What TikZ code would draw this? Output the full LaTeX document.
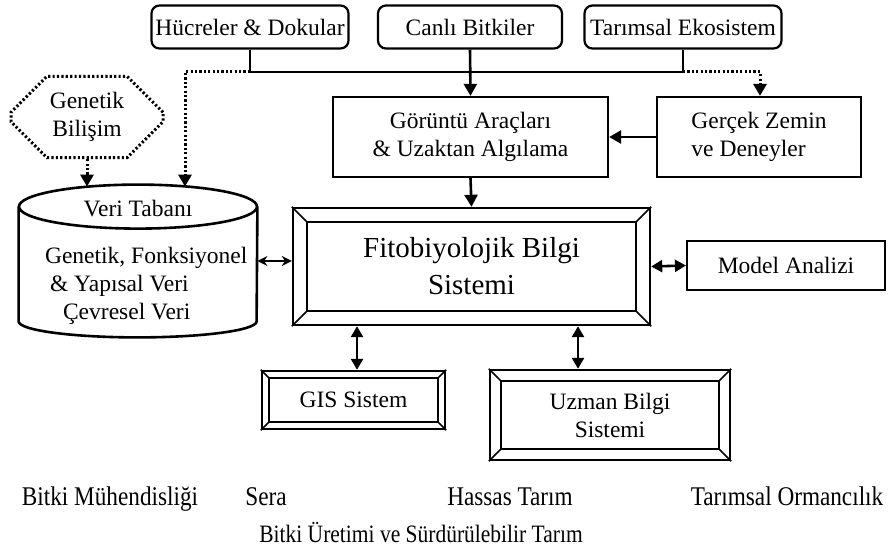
\documentclass[tikz,border=0pt]{standalone}
\usepackage{fontspec}
\setmainfont{Liberation Serif}
\newfontfamily\narrowserif[FakeStretch=0.86]{Liberation Serif}
\usetikzlibrary{shapes,arrows.meta,positioning}

% inner frame and corner bevels of a framed node (name, inset)
\newcommand{\bevelframe}[2]{%
  \draw[line width=1.2pt] ([shift={(#2,-#2)}]#1.north west) rectangle ([shift={(-#2,#2)}]#1.south east);
  \draw[line width=0.8pt] (#1.north west) -- ++(#2,-#2);
  \draw[line width=0.8pt] (#1.north east) -- ++(-#2,-#2);
  \draw[line width=0.8pt] (#1.south west) -- ++(#2,#2);
  \draw[line width=0.8pt] (#1.south east) -- ++(-#2,#2);
}

\begin{document}
\begin{tikzpicture}[
    x=0.5pt, y=-0.5pt,
    font=\fontsize{11.75}{14}\selectfont,
    srcbox/.style={draw, rounded corners=4pt, line width=1.1pt, minimum height=21.5pt, inner sep=1pt},
    plainbox/.style={draw, line width=1.1pt, align=center, minimum height=40pt},
    framebox/.style={draw, line width=1.2pt, align=center},
    conn/.style={line width=1.3pt},
    dots/.style={line width=1.5pt, dash pattern=on 1.1pt off 1.1pt},
    flow/.style={conn, -{Triangle[length=6pt,width=6.5pt]}},
    dotflow/.style={dots, -{Triangle[length=6pt,width=6.5pt]}},
    both/.style={conn, {Triangle[length=5.5pt,width=6pt]}-{Triangle[length=5.5pt,width=6pt]}},
    thinboth/.style={line width=0.8pt, {Stealth[length=5pt,width=5pt]}-{Stealth[length=5pt,width=5pt]}},
    usecase/.style={anchor=base, font=\narrowserif\fontsize{13.5}{16}\selectfont}
]
\useasboundingbox (0,0) rectangle (892,550);

% sources
\node[srcbox, minimum width=98.5pt] (cells) at (250,27) {Hücreler \& Dokular};
\node[srcbox, minimum width=92pt] (plants) at (470,27) {Canlı Bitkiler};
\node[srcbox, minimum width=98.5pt] (agro) at (683,27) {Tarımsal Ekosistem};

\node[plainbox, minimum width=137.5pt] (imaging) at (470.5,137) {Görüntü Araçları\\\& Uzaktan Algılama};
\node[plainbox, minimum width=102pt, align=left] (ground) at (759,137) {Gerçek Zemin\\ve Deneyler};

\node[draw, dots, chamfered rectangle, chamfered rectangle xsep=11pt,
      chamfered rectangle ysep=7pt, minimum width=76pt, minimum height=36.5pt, inner sep=1pt,
      align=center] (gen) at (87,117) {Genetik\\Bilişim};

% database: a cylinder drawn round the node
\node[minimum width=119pt, minimum height=76pt, inner sep=0pt] (db) at (138,261) {};
\draw[line width=1.3pt] ([yshift=-11pt]db.north) ellipse [x radius=59.5pt, y radius=11pt];
\draw[line width=1.3pt] ([yshift=-11pt]db.north west) -- ([yshift=8pt]db.south west)
  arc [start angle=180, end angle=360, x radius=59.5pt, y radius=8pt] -- ([yshift=-11pt]db.north east);
\node (dbtitle) at (138,209) {Veri Tabanı};
\node[anchor=west, align=left] (dbdata) at (38,286)
  {Genetik, Fonksiyonel\\\hspace*{2.5pt}\& Yapısal Veri\\\hspace*{9pt}Çevresel Veri};

% main system
\node[framebox, minimum width=178.5pt, minimum height=58.5pt,
      font=\fontsize{14.5}{18.5}\selectfont] (fito) at (471.5,266.5) {Fitobiyolojik Bilgi\\Sistemi};
\bevelframe{fito}{7.5pt}
\node[draw, line width=1.1pt, minimum width=99pt, minimum height=24.5pt] (model) at (786,265.5) {Model Analizi};

\node[framebox, minimum width=91.5pt, minimum height=29pt] (gis) at (353.5,400) {GIS Sistem};
\bevelframe{gis}{4pt}
\node[framebox, minimum width=120pt, minimum height=45pt] (expert) at (610,415) {Uzman Bilgi\\Sistemi};
\bevelframe{expert}{6pt}

% bus from the sources
\coordinate (bus) at (0,72);
\coordinate (dbin) at (185,72);
\coordinate (gndin) at (760,72);
\coordinate (gisin) at (357,0);
\coordinate (expin) at (578,0);
\draw[conn] (cells.south) -- (cells.south |- bus) -- (agro.south |- bus) -- (agro.south);
\draw[flow] (plants.south) -- (imaging.north);
\draw[dotflow] (cells.south |- bus) -- (dbin) -- ([yshift=-1pt]dbin |- db.north);
\draw[dotflow] (agro.south |- bus) -- (gndin) -- (gndin |- ground.north);
\draw[dotflow] (gen.south) -- ([yshift=-1pt]gen.south |- db.north);

\draw[flow] (ground.west) -- (imaging.east);
\draw[flow] (imaging.south) -- (fito.north);
\draw[thinboth] (db.east) -- (db.east -| fito.west);
\draw[both] (fito.east) -- (model.west);
\draw[both] (gisin |- fito.south) -- (gisin |- gis.north);
\draw[both] (expin |- fito.south) -- (expin |- expert.north);

% application areas
\node[usecase] (eng) at (110,505) {Bitki Mühendisliği};
\node[usecase] (green) at (266,505) {Sera};
\node[usecase] (prec) at (510,505) {Hassas Tarım};
\node[usecase] (forest) at (787,505) {Tarımsal Ormancılık};
\node[usecase, font=\narrowserif\fontsize{12.5}{15}\selectfont] (prod) at (421,542) {Bitki Üretimi ve Sürdürülebilir Tarım};
\end{tikzpicture}
\end{document}
